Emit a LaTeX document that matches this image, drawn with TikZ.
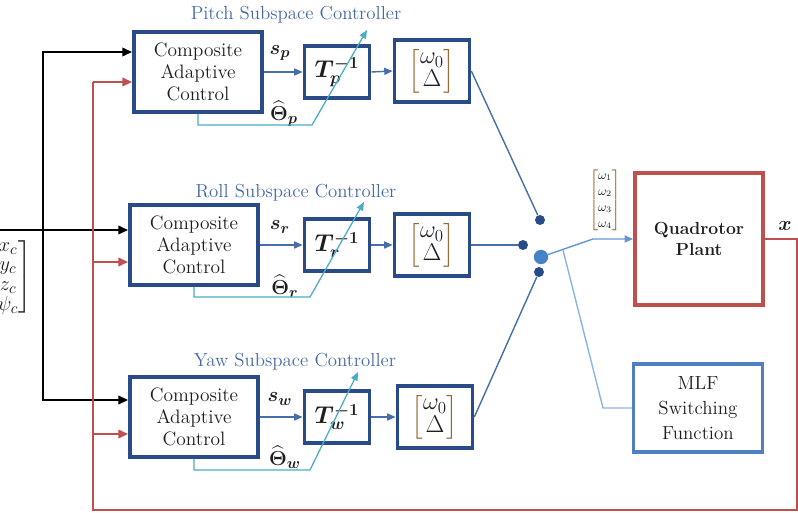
\documentclass[tikz,border=0pt]{standalone}
\usepackage{amsmath}
\usepackage{bm}
\usetikzlibrary{arrows.meta,calc}

\definecolor{navy}{RGB}{41,75,135}
\definecolor{ink}{RGB}{30,30,30}
\definecolor{brk}{RGB}{150,95,40}
\definecolor{tblue}{RGB}{70,105,165}
\definecolor{lblue}{RGB}{70,110,170}
\definecolor{cyanl}{RGB}{75,172,198}
\definecolor{redl}{RGB}{192,80,77}
\definecolor{mblue}{RGB}{79,129,189}
\definecolor{hblue}{RGB}{70,130,200}
\definecolor{pblue}{RGB}{100,150,210}
\definecolor{sblue}{RGB}{140,180,225}

% column vector with brown brackets
\newcommand{\wvec}[1]{$\color{brk}\left[\color{ink}\begin{matrix}#1\end{matrix}\color{brk}\right]$}

\begin{document}
\begin{tikzpicture}[x=0.025cm,y=-0.025cm,
  cac/.style={draw=navy,line width=2.6pt,minimum width=3.2cm,minimum height=2cm,
    align=center,text=ink,font=\fontsize{13.8}{15.6}\selectfont,inner sep=0pt},
  tinv/.style={draw=navy,line width=2.6pt,minimum width=1.625cm,minimum height=1.3cm,
    text=ink,font=\fontsize{18}{20}\selectfont,inner sep=0pt},
  wbox/.style={draw=navy,line width=2.6pt,minimum width=1.875cm,minimum height=1.55cm,
    font=\fontsize{17.5}{15}\selectfont,inner sep=0pt},
  title/.style={text=tblue,font=\fontsize{13.4}{16}\selectfont,inner sep=0pt},
  sig/.style={text=ink,font=\fontsize{15}{16}\selectfont,inner sep=0pt},
  link/.style={draw=lblue,line width=1pt},
  flow/.style={link,-{Triangle[length=6pt,width=5pt]}},
  adapt/.style={draw=cyanl,line width=0.9pt,-{Triangle[length=6pt,width=5pt]}},
  cmd/.style={draw=black,line width=1.6pt,-{Triangle[length=7pt,width=6pt]}},
  fb/.style={draw=redl,line width=1.6pt},
  fbin/.style={fb,-{Triangle[length=7pt,width=6pt]}},
  dot/.style={circle,fill=navy,inner sep=0pt,minimum size=0.25cm},
  hubdot/.style={circle,fill=hblue,inner sep=0pt,minimum size=0.36cm}]
\useasboundingbox (0,0) rectangle (798,513);

% pitch channel
\node[title] (ttlP) at (296,15) {Pitch Subspace Controller};
\node[cac] (cacP) at (198,72) {Composite\\Adaptive\\Control};
\node[tinv] (tP) at (337,72) {$\bm{T_p^{-1}}$};
\node[wbox] (wP) at (432,71) {\wvec{\omega_0\\\Delta}};
\node[sig] (sP) at (280,53) {$\bm{s_p}$};
\node[sig] (thP) at (284,114) {$\widehat{\bm\Theta}_{\bm p}$};
\coordinate (kP) at (312,125);
\coordinate (aP) at (367,30);

% roll channel
\node[title] (ttlR) at (296,193) {Roll Subspace Controller};
\node[cac] (cacR) at (194,245) {Composite\\Adaptive\\Control};
\node[tinv] (tR) at (337,245) {$\bm{T_r^{-1}}$};
\node[wbox] (wR) at (432,245) {\wvec{\omega_0\\\Delta}};
\node[sig] (sR) at (280,227) {$\bm{s_r}$};
\node[sig] (thR) at (285,286) {$\widehat{\bm\Theta}_{\bm r}$};
\coordinate (kR) at (310,297);
\coordinate (aR) at (364,202);

% yaw channel
\node[title] (ttlW) at (295,362) {Yaw Subspace Controller};
\node[cac] (cacW) at (194,417) {Composite\\Adaptive\\Control};
\node[tinv] (tW) at (337,417) {$\bm{T_w^{-1}}$};
\node[wbox] (wW) at (435,417) {\wvec{\omega_0\\\Delta}};
\node[sig] (sW) at (280,399) {$\bm{s_w}$};
\node[sig] (thW) at (285,457) {$\widehat{\bm\Theta}_{\bm w}$};
\coordinate (kW) at (310,470);
\coordinate (aW) at (358,372);

% switch contacts
\node[dot] (dP) at (540,220) {};
\node[dot] (dR) at (523,245) {};
\node[dot] (dW) at (539,272) {};
\node[hubdot] (hub) at (541,257) {};

% plant and switching logic
\node[draw=redl,line width=2.6pt,minimum width=3.2cm,minimum height=3.3cm,
  align=center,text=ink,font=\fontsize{12.5}{14.5}\selectfont\bfseries] (plant) at (699,239) {Quadrotor\\Plant};
\node[draw=mblue,line width=2.3pt,minimum width=3.225cm,minimum height=2.2cm,
  align=center,text=ink,font=\fontsize{13.5}{17.8}\selectfont] (mlf) at (698,408) {MLF\\Switching\\Function};
\node[font=\fontsize{9}{11.4}\selectfont,inner sep=0pt] (wlab) at (605,200) {\wvec{\omega_1\\\omega_2\\\omega_3\\\omega_4}};
\node[sig] (xout) at (785,226) {$\bm{x}$};
\node[sig,anchor=east,font=\fontsize{15}{14}\selectfont] (xin) at (32,277)
  {$\left.\begin{matrix}x_c\\y_c\\z_c\\\psi_c\end{matrix}\right]$};

% forward paths
\foreach \c in {P,R,W}{
  \draw[flow] (cac\c.east) -- (t\c.west);
  \draw[flow] (t\c.east) -- (w\c.west);
  \draw[adapt] (cac\c.south) |- (k\c) -- (a\c);
}
\draw[link] (wP.east) -- (dP);
\draw[link] (wR.east) -- (dR);
\draw[link] (wW.east) -- (dW);

\coordinate (kOut) at (593,239);
\coordinate (kSw) at ($(hub)!0.42!(kOut)$);
\coordinate (kMlf) at (603,408);
\draw[draw=pblue,line width=1pt,-{Triangle[length=6pt,width=5pt]}] (hub) -- (kOut) -- (plant.west);
\draw[draw=sblue,line width=1pt] (kSw) -- (kMlf) -- (mlf.west);

% commands
\coordinate (inL) at (0,230);
\coordinate (inJ) at (43,230);
\coordinate (inP) at (43,52);
\coordinate (inW) at (43,400);
\draw[cmd] (inL) -- (cacR.west |- inL);
\draw[cmd] (inJ) -- (inP) -- (cacP.west |- inP);
\draw[cmd] (inJ) -- (inW) -- (cacW.west |- inW);

% state feedback
\coordinate (fbA) at (797,239);
\coordinate (fbB) at (797,510);
\coordinate (fbC) at (93,510);
\coordinate (fbP) at (93,82);
\coordinate (fbR) at (93,262);
\coordinate (fbW) at (93,434);
\draw[fb] (plant.east) -- (fbA) -- (fbB) -- (fbC) -- (fbP);
\draw[fbin] (fbP) -- (cacP.west |- fbP);
\draw[fbin] (fbR) -- (cacR.west |- fbR);
\draw[fbin] (fbW) -- (cacW.west |- fbW);
\end{tikzpicture}
\end{document}
